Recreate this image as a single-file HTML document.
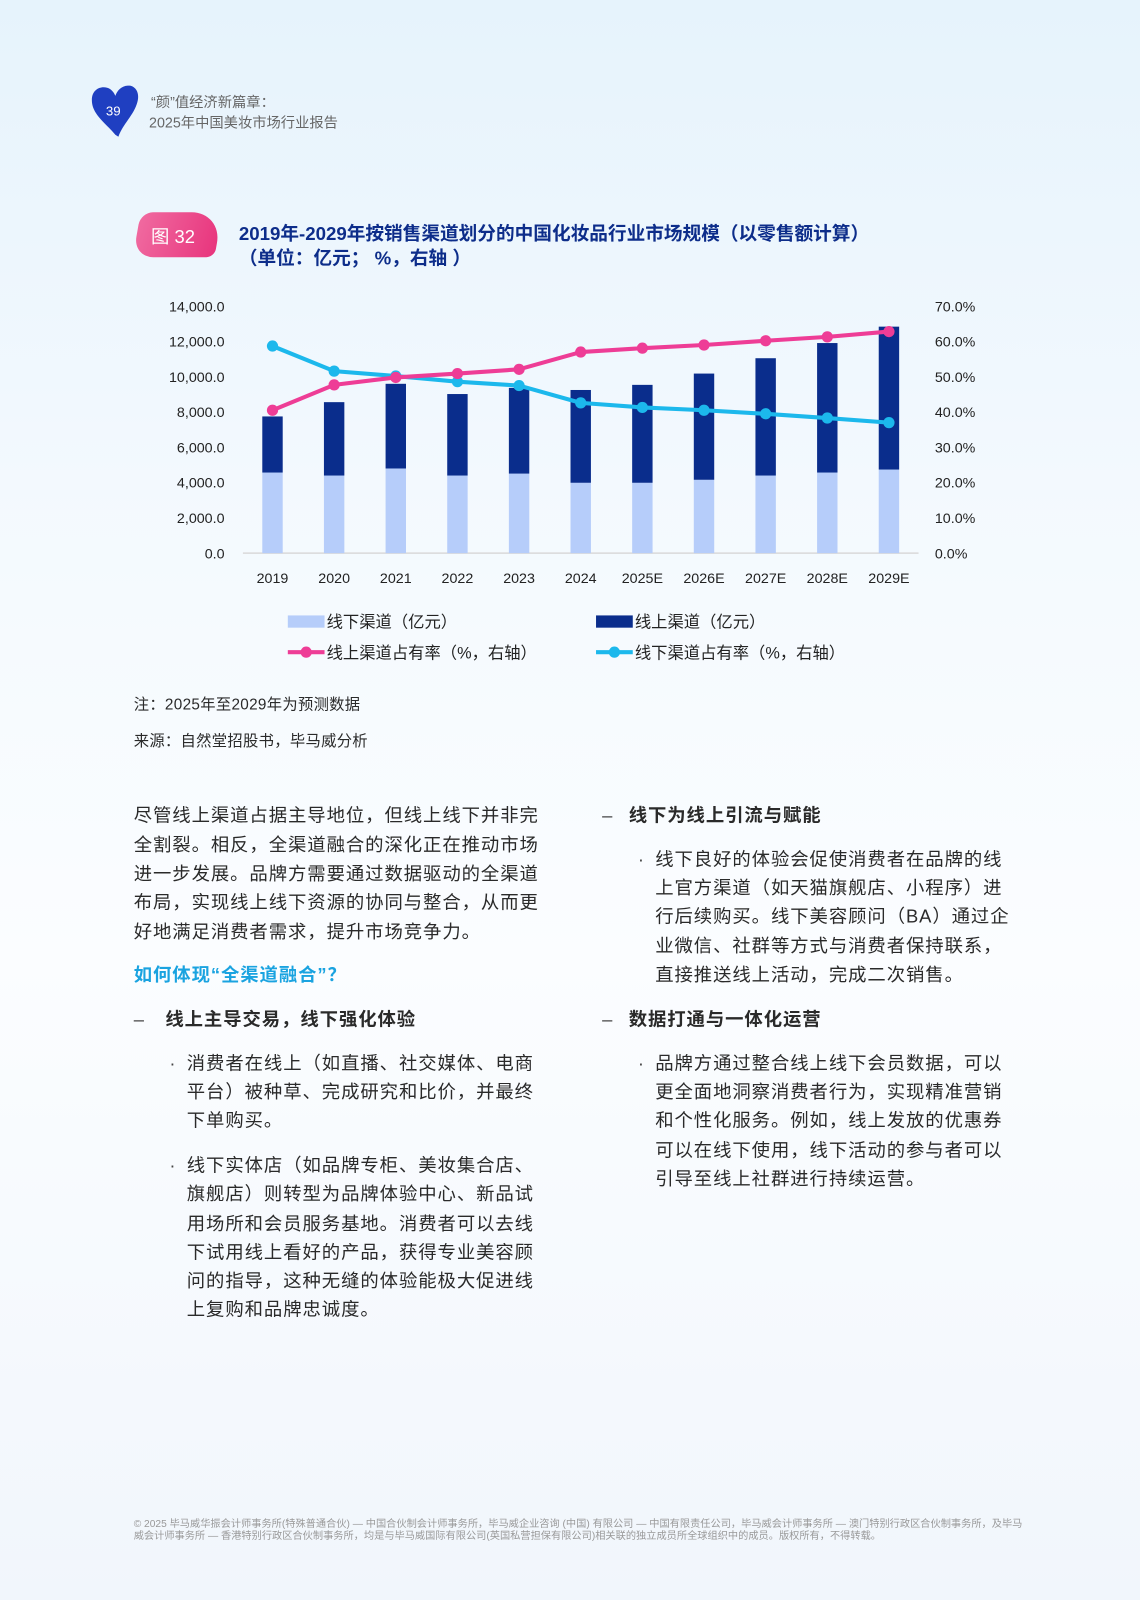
<!DOCTYPE html>
<html><head><meta charset="utf-8">
<style>
*{margin:0;padding:0;box-sizing:border-box}
html,body{width:1140px;height:1600px;overflow:hidden}
body{position:relative;font-family:"Liberation Sans","Noto Sans CJK SC",sans-serif;background:linear-gradient(180deg,#e6f3fc 0%,#f3f9fe 30%,#fbfdff 60%,#f1f6fc 100%);color:#222}
#wrap{position:absolute;left:0;top:0;width:1117px;height:1568px;transform:scale(1.0206);transform-origin:0 0}
.l{position:absolute;font-size:18px;line-height:28px;white-space:nowrap;color:#2a2a2a;letter-spacing:0.9px}
.b{font-weight:bold}
.dot{position:absolute;font-size:18px;line-height:28px;color:#444}
.hdr{position:absolute;font-size:14px;color:#666;line-height:22px}
.foot{position:absolute;left:131px;top:1488px;width:880px;font-size:10px;line-height:12px;color:#999}
</style></head><body>
<div id="wrap">
<svg style="position:absolute;left:88px;top:82px" width="50" height="52" viewBox="0 0 50 52"><path d="M25 50 C15 38 2 30 2 16 C2 6 10 2 17 4 C21 5 24 9 25 12 C27 6 32 1 40 2 C47 4 49 12 46 20 C42 32 32 40 28 52 Z" fill="#1f3fc1"/><text x="23" y="31" font-size="13" fill="#fff" text-anchor="middle" font-family="Liberation Sans">39</text></svg>
<div class="hdr" style="left:148px;top:89px">“颜”值经济新篇章：</div>
<div class="hdr" style="left:146px;top:109px">2025年中国美妆市场行业报告</div>
<div style="position:absolute;left:134px;top:208px;width:80px;height:44px;background:linear-gradient(100deg,#f06aa0,#e8357d);border-radius:12px 30px 8px 20px;transform:skew(-10deg);"></div>
<div style="position:absolute;left:148px;top:218px;color:#fff;font-size:18px">图 32</div>
<div class="b" style="position:absolute;left:234px;top:217px;font-size:18.3px;line-height:24px;color:#0d2d8a">2019年-2029年按销售渠道划分的中国化妆品行业市场规模（以零售额计算）<br>（单位：亿元； %，右轴 ）</div>
<svg id="chart" style="position:absolute;left:0;top:0" width="1117" height="660"></svg>
<div class="l" style="left:131px;top:677px;font-size:15px;letter-spacing:0.3px">注：2025年至2029年为预测数据</div>
<div class="l" style="left:131px;top:713px;font-size:15px;letter-spacing:0.3px">来源：自然堂招股书，毕马威分析</div>
<div>
<div class="l" style="left:131px;top:785px">尽管线上渠道占据主导地位，但线上线下并非完</div>
<div class="l" style="left:131px;top:814px">全割裂。相反，全渠道融合的深化正在推动市场</div>
<div class="l" style="left:131px;top:842px">进一步发展。品牌方需要通过数据驱动的全渠道</div>
<div class="l" style="left:131px;top:870px">布局，实现线上线下资源的协同与整合，从而更</div>
<div class="l" style="left:131px;top:899px">好地满足消费者需求，提升市场竞争力。</div>
<div class="l b" style="left:131px;top:941px;color:#1aa3e0">如何体现“全渠道融合”？</div>
<div class="dot" style="left:131px;top:985px">–</div>
<div class="l b" style="left:162px;top:985px">线上主导交易，线下强化体验</div>
<div class="dot" style="left:166px;top:1028px">·</div>
<div class="l" style="left:183px;top:1028px">消费者在线上（如直播、社交媒体、电商</div>
<div class="l" style="left:183px;top:1056px">平台）被种草、完成研究和比价，并最终</div>
<div class="l" style="left:183px;top:1084px">下单购买。</div>
<div class="dot" style="left:166px;top:1128px">·</div>
<div class="l" style="left:183px;top:1128px">线下实体店（如品牌专柜、美妆集合店、</div>
<div class="l" style="left:183px;top:1156px">旗舰店）则转型为品牌体验中心、新品试</div>
<div class="l" style="left:183px;top:1185px">用场所和会员服务基地。消费者可以去线</div>
<div class="l" style="left:183px;top:1213px">下试用线上看好的产品，获得专业美容顾</div>
<div class="l" style="left:183px;top:1241px">问的指导，这种无缝的体验能极大促进线</div>
<div class="l" style="left:183px;top:1269px">上复购和品牌忠诚度。</div>
<div class="dot" style="left:590px;top:785px">–</div>
<div class="l b" style="left:616px;top:785px">线下为线上引流与赋能</div>
<div class="dot" style="left:625px;top:828px">·</div>
<div class="l" style="left:642px;top:828px">线下良好的体验会促使消费者在品牌的线</div>
<div class="l" style="left:642px;top:856px">上官方渠道（如天猫旗舰店、小程序）进</div>
<div class="l" style="left:642px;top:884px">行后续购买。线下美容顾问（BA）通过企</div>
<div class="l" style="left:642px;top:913px">业微信、社群等方式与消费者保持联系，</div>
<div class="l" style="left:642px;top:941px">直接推送线上活动，完成二次销售。</div>
<div class="dot" style="left:590px;top:985px">–</div>
<div class="l b" style="left:616px;top:985px">数据打通与一体化运营</div>
<div class="dot" style="left:625px;top:1028px">·</div>
<div class="l" style="left:642px;top:1028px">品牌方通过整合线上线下会员数据，可以</div>
<div class="l" style="left:642px;top:1056px">更全面地洞察消费者行为，实现精准营销</div>
<div class="l" style="left:642px;top:1084px">和个性化服务。例如，线上发放的优惠券</div>
<div class="l" style="left:642px;top:1113px">可以在线下使用，线下活动的参与者可以</div>
<div class="l" style="left:642px;top:1141px">引导至线上社群进行持续运营。</div>
</div>
<div class="foot">© 2025 毕马威华振会计师事务所(特殊普通合伙) — 中国合伙制会计师事务所，毕马威企业咨询 (中国) 有限公司 — 中国有限责任公司，毕马威会计师事务所 — 澳门特别行政区合伙制事务所，及毕马威会计师事务所 — 香港特别行政区合伙制事务所，均是与毕马威国际有限公司(英国私营担保有限公司)相关联的独立成员所全球组织中的成员。版权所有，不得转载。</div>
</div>
<script>
const categories=["2019","2020","2021","2022","2023","2024","2025E","2026E","2027E","2028E","2029E"];
const offline=[4570,4400,4800,4400,4510,3990,3990,4160,4400,4570,4740];
const online=[3180,4160,4800,4620,4860,5260,5550,6020,6650,7340,8100];
const onlineShare=[40.5,47.7,49.8,50.9,52.1,57.0,58.1,59.0,60.2,61.3,62.8];
const offlineShare=[58.7,51.6,50.2,48.6,47.5,42.6,41.3,40.5,39.5,38.3,37.0];
const leftTicks=[0,2000,4000,6000,8000,10000,12000,14000];
const rightTicks=[0,10,20,30,40,50,60,70];
const NS="http://www.w3.org/2000/svg";
const svg=document.getElementById('chart');
const y0=542,yTop=300,x0=267,step=60.4,bw=20;
const yL=v=>y0-(v/14000)*(y0-yTop);
const yR=v=>y0-(v/70)*(y0-yTop);
const xC=i=>x0+i*step;
function mk(t,a){const e=document.createElementNS(NS,t);for(const k in a)e.setAttribute(k,a[k]);svg.appendChild(e);return e;}
let ax=mk('line',{x1:238,x2:900,y1:y0,y2:y0,stroke:'#d9d9d9','stroke-width':1.5});


leftTicks.forEach(v=>{const t=mk('text',{x:220,y:yL(v)+5,'text-anchor':'end','font-size':14,fill:'#222','font-family':'Liberation Sans'});t.textContent=v.toLocaleString('en-US',{minimumFractionDigits:1});

});
rightTicks.forEach(v=>{const t=mk('text',{x:916,y:yR(v)+5,'font-size':14,fill:'#222','font-family':'Liberation Sans'});t.textContent=v.toFixed(1)+'%';

});
categories.forEach((c,i)=>{
const t=mk('text',{x:xC(i),y:571,'text-anchor':'middle','font-size':14,fill:'#222','font-family':'Liberation Sans'});t.textContent=c;


const r1=mk('rect',{x:xC(i)-bw/2,y:yL(offline[i]),width:bw,height:y0-yL(offline[i]),fill:'#b6cdfa'});


const r2=mk('rect',{x:xC(i)-bw/2,y:yL(offline[i]+online[i]),width:bw,height:yL(offline[i])-yL(offline[i]+online[i]),fill:'#0a2d8c'});


});
function line(arr,col,name){
const p=mk('polyline',{points:arr.map((v,i)=>xC(i)+','+yR(v)).join(' '),fill:'none',stroke:col,'stroke-width':4,'stroke-linejoin':'round'});


arr.forEach((v,i)=>{const c=mk('circle',{cx:xC(i),cy:yR(v),r:5.5,fill:col});

});
}
line(offlineShare,'#1cb8ec','offline-share');
line(onlineShare,'#ee3d96','online-share');
function leg(x,y,type,col,label,name){
if(type==='rect'){mk('rect',{x:x,y:y-6,width:36,height:12,fill:col});}
else{mk('line',{x1:x,x2:x+36,y1:y,y2:y,stroke:col,'stroke-width':4});mk('circle',{cx:x+18,cy:y,r:5.5,fill:col});}
const t=mk('text',{x:x+38,y:y+6,'font-size':16,fill:'#222','font-family':'Liberation Sans, Noto Sans CJK SC, sans-serif'});t.textContent=label;


}
leg(282,609,'rect','#b6cdfa','线下渠道（亿元）','legend-offline');
leg(584,609,'rect','#0a2d8c','线上渠道（亿元）','legend-online');
leg(282,639,'line','#ee3d96','线上渠道占有率（%，右轴）','legend-online-share');
leg(584,639,'line','#1cb8ec','线下渠道占有率（%，右轴）','legend-offline-share');
</script>
</body></html>
